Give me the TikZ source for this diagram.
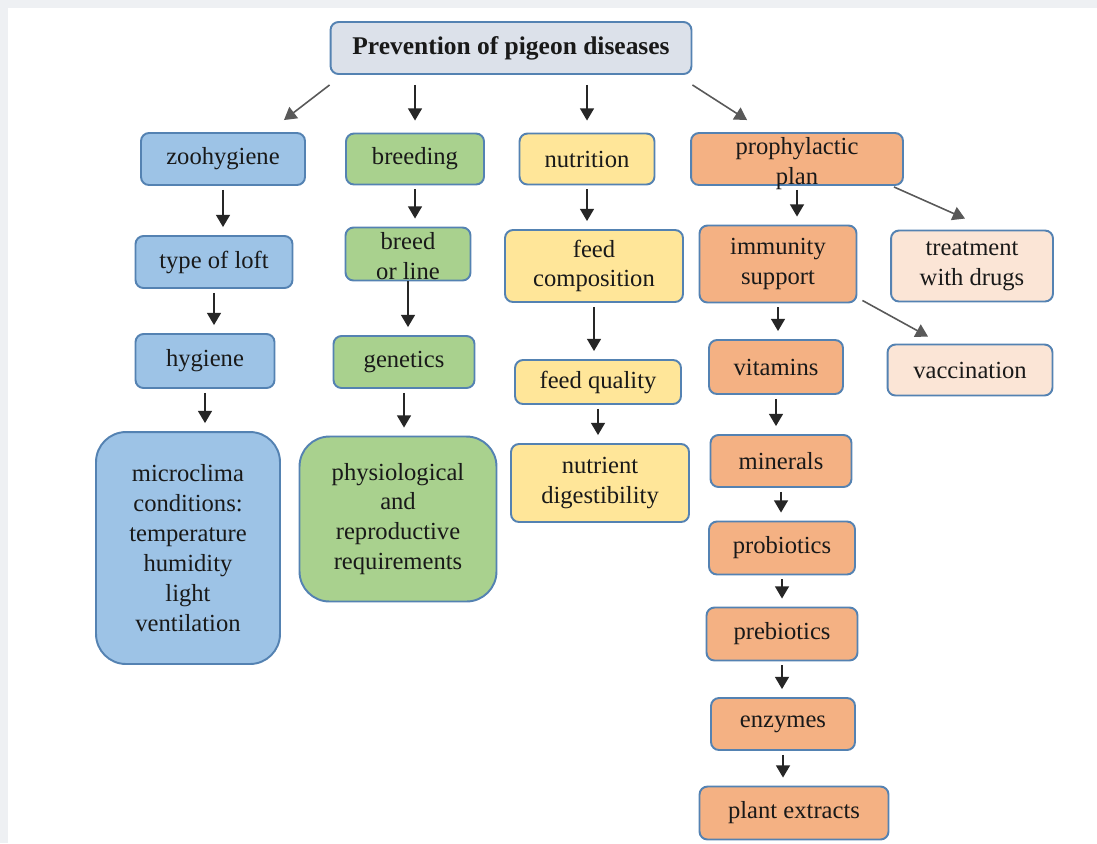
\documentclass[tikz,border=0pt]{standalone}
\usepackage{fontspec}
\setmainfont{Liberation Serif}
\usetikzlibrary{arrows.meta}
\definecolor{rootfill}{RGB}{220,225,234}
\definecolor{boxline}{RGB}{84,130,178}
\definecolor{zoofill}{RGB}{157,195,230}
\definecolor{breedfill}{RGB}{169,209,142}
\definecolor{feedfill}{RGB}{255,230,153}
\definecolor{planfill}{RGB}{244,177,131}
\definecolor{curefill}{RGB}{251,229,214}
\definecolor{frame}{RGB}{238,240,243}
\begin{document}
\begin{tikzpicture}[x=0.02cm, y=-0.02cm,
    box/.style={draw=boxline, line width=1.1pt, rounded corners=0.16cm, align=center, inner sep=2pt, text=black!90, font=\fontsize{14}{17}\selectfont},
    big/.style={box, rounded corners=0.6cm},
    flow/.style={-{Triangle[width=8pt,length=7pt]}, line width=0.9pt, black!85, shorten <=0.08cm, shorten >=0.16cm},
    slant/.style={-{Triangle[width=8pt,length=7pt]}, line width=0.9pt, black!65}]
    \useasboundingbox (0,0) rectangle (1097,843);
    \fill[frame] (0,0) rectangle (1097,843);
    \fill[white] (8,8) rectangle (1097,843);
    \node[box, fill=rootfill, minimum width=7.22cm, minimum height=1.04cm, font=\fontsize{14.5}{17}\selectfont\bfseries] (root) at (511,48) {Prevention of pigeon diseases};
    \node[box, fill=zoofill, minimum width=3.28cm, minimum height=1.04cm] (zoo) at (223,159) {zoohygiene};
    \node[box, fill=breedfill, minimum width=2.76cm, minimum height=1.02cm] (breeding) at (415,159) {breeding};
    \node[box, fill=feedfill, minimum width=2.7cm, minimum height=1.02cm] (nutrition) at (587,159) {nutrition};
    \node[box, fill=planfill, minimum width=4.24cm, minimum height=1.04cm] (plan) at (797,159) {\smash{\raisebox{-6pt}{\begin{tabular}{@{}c@{}}prophylactic\\plan\end{tabular}}}};
    \node[box, fill=zoofill, minimum width=3.14cm, minimum height=1.04cm] (loft) at (214,262) {type of loft};
    \node[box, fill=zoofill, minimum width=2.78cm, minimum height=1.08cm] (hygiene) at (205,361) {hygiene};
    \node[big, fill=zoofill, minimum width=3.68cm, minimum height=4.64cm] (micro) at (188,548) {microclima\\conditions:\\temperature\\humidity\\light\\ventilation};
    \node[box, fill=breedfill, minimum width=2.5cm, minimum height=1.06cm] (line) at (408,254) {\smash{\raisebox{-6pt}{\begin{tabular}{@{}c@{}}breed\\or line\end{tabular}}}};
    \node[box, fill=breedfill, minimum width=2.82cm, minimum height=1.04cm] (genetics) at (404,362) {genetics};
    \node[big, fill=breedfill, minimum width=3.94cm, minimum height=3.3cm] (physio) at (398,519) {physiological\\and\\reproductive\\requirements};
    \node[box, fill=feedfill, minimum width=3.56cm, minimum height=1.44cm] (comp) at (594,266) {feed\\composition};
    \node[box, fill=feedfill, minimum width=3.32cm, minimum height=0.88cm] (quality) at (598,382) {feed quality};
    \node[box, fill=feedfill, minimum width=3.56cm, minimum height=1.56cm] (digest) at (600,483) {nutrient\\digestibility};
    \node[box, fill=planfill, minimum width=3.14cm, minimum height=1.54cm] (immunity) at (778,264) {immunity\\support};
    \node[box, fill=curefill, minimum width=3.24cm, minimum height=1.42cm] (drugs) at (972,266) {treatment\\with drugs};
    \node[box, fill=planfill, minimum width=2.68cm, minimum height=1.08cm] (vitamins) at (776,367) {vitamins};
    \node[box, fill=curefill, minimum width=3.3cm, minimum height=1.02cm] (vaccine) at (970,370) {vaccination};
    \node[box, fill=planfill, minimum width=2.82cm, minimum height=1.04cm] (minerals) at (781,461) {minerals};
    \node[box, fill=planfill, minimum width=2.92cm, minimum height=1.06cm] (probio) at (782,548) {probiotics};
    \node[box, fill=planfill, minimum width=3.02cm, minimum height=1.06cm] (prebio) at (782,634) {prebiotics};
    \node[box, fill=planfill, minimum width=2.88cm, minimum height=1.04cm] (enzymes) at (783,724) {enzymes};
    \node[box, fill=planfill, minimum width=3.78cm, minimum height=1.06cm] (plant) at (794,813) {plant extracts};
    \draw[slant] ([yshift=-0.2cm]root.south west) -- ([xshift=-0.44cm,yshift=0.24cm]zoo.north east);
    \draw[flow, shorten <=0.2cm, shorten >=0.24cm] (root.south -| breeding.north) -- (breeding.north);
    \draw[flow, shorten <=0.2cm, shorten >=0.24cm] (root.south -| nutrition.north) -- (nutrition.north);
    \draw[slant] ([yshift=-0.2cm]root.south east) -- ([xshift=1.14cm,yshift=0.24cm]plan.north west);
    \draw[flow] (zoo.south) -- (zoo.south |- loft.north);
    \draw[flow] (loft.south) -- (loft.south |- hygiene.north);
    \draw[flow] (hygiene.south) -- (hygiene.south |- micro.north);
    \draw[flow] (breeding.south) -- (breeding.south |- line.north);
    \draw[flow, shorten <=0pt] (line.south) -- (line.south |- genetics.north);
    \draw[flow] (genetics.south) -- (genetics.south |- physio.north);
    \draw[flow] (nutrition.south) -- (nutrition.south |- comp.north);
    \draw[flow] (comp.south) -- (comp.south |- quality.north);
    \draw[flow] (quality.south) -- (quality.south |- digest.north);
    \draw[flow] (plan.south) -- (plan.south |- immunity.north);
    \draw[slant] ([xshift=-0.2cm,yshift=-0.02cm]plan.south east) -- ([xshift=-0.14cm,yshift=0.22cm]drugs.north);
    \draw[flow] (immunity.south) -- (immunity.south |- vitamins.north);
    \draw[slant] ([xshift=0.1cm,yshift=0.06cm]immunity.south east) -- ([xshift=-0.84cm,yshift=0.14cm]vaccine.north);
    \draw[flow] (vitamins.south) -- (vitamins.south |- minerals.north);
    \draw[flow] (minerals.south) -- (minerals.south |- probio.north);
    \draw[flow] (probio.south) -- (probio.south |- prebio.north);
    \draw[flow] (prebio.south) -- (prebio.south |- enzymes.north);
    \draw[flow] (enzymes.south) -- (enzymes.south |- plant.north);
\end{tikzpicture}
\end{document}
